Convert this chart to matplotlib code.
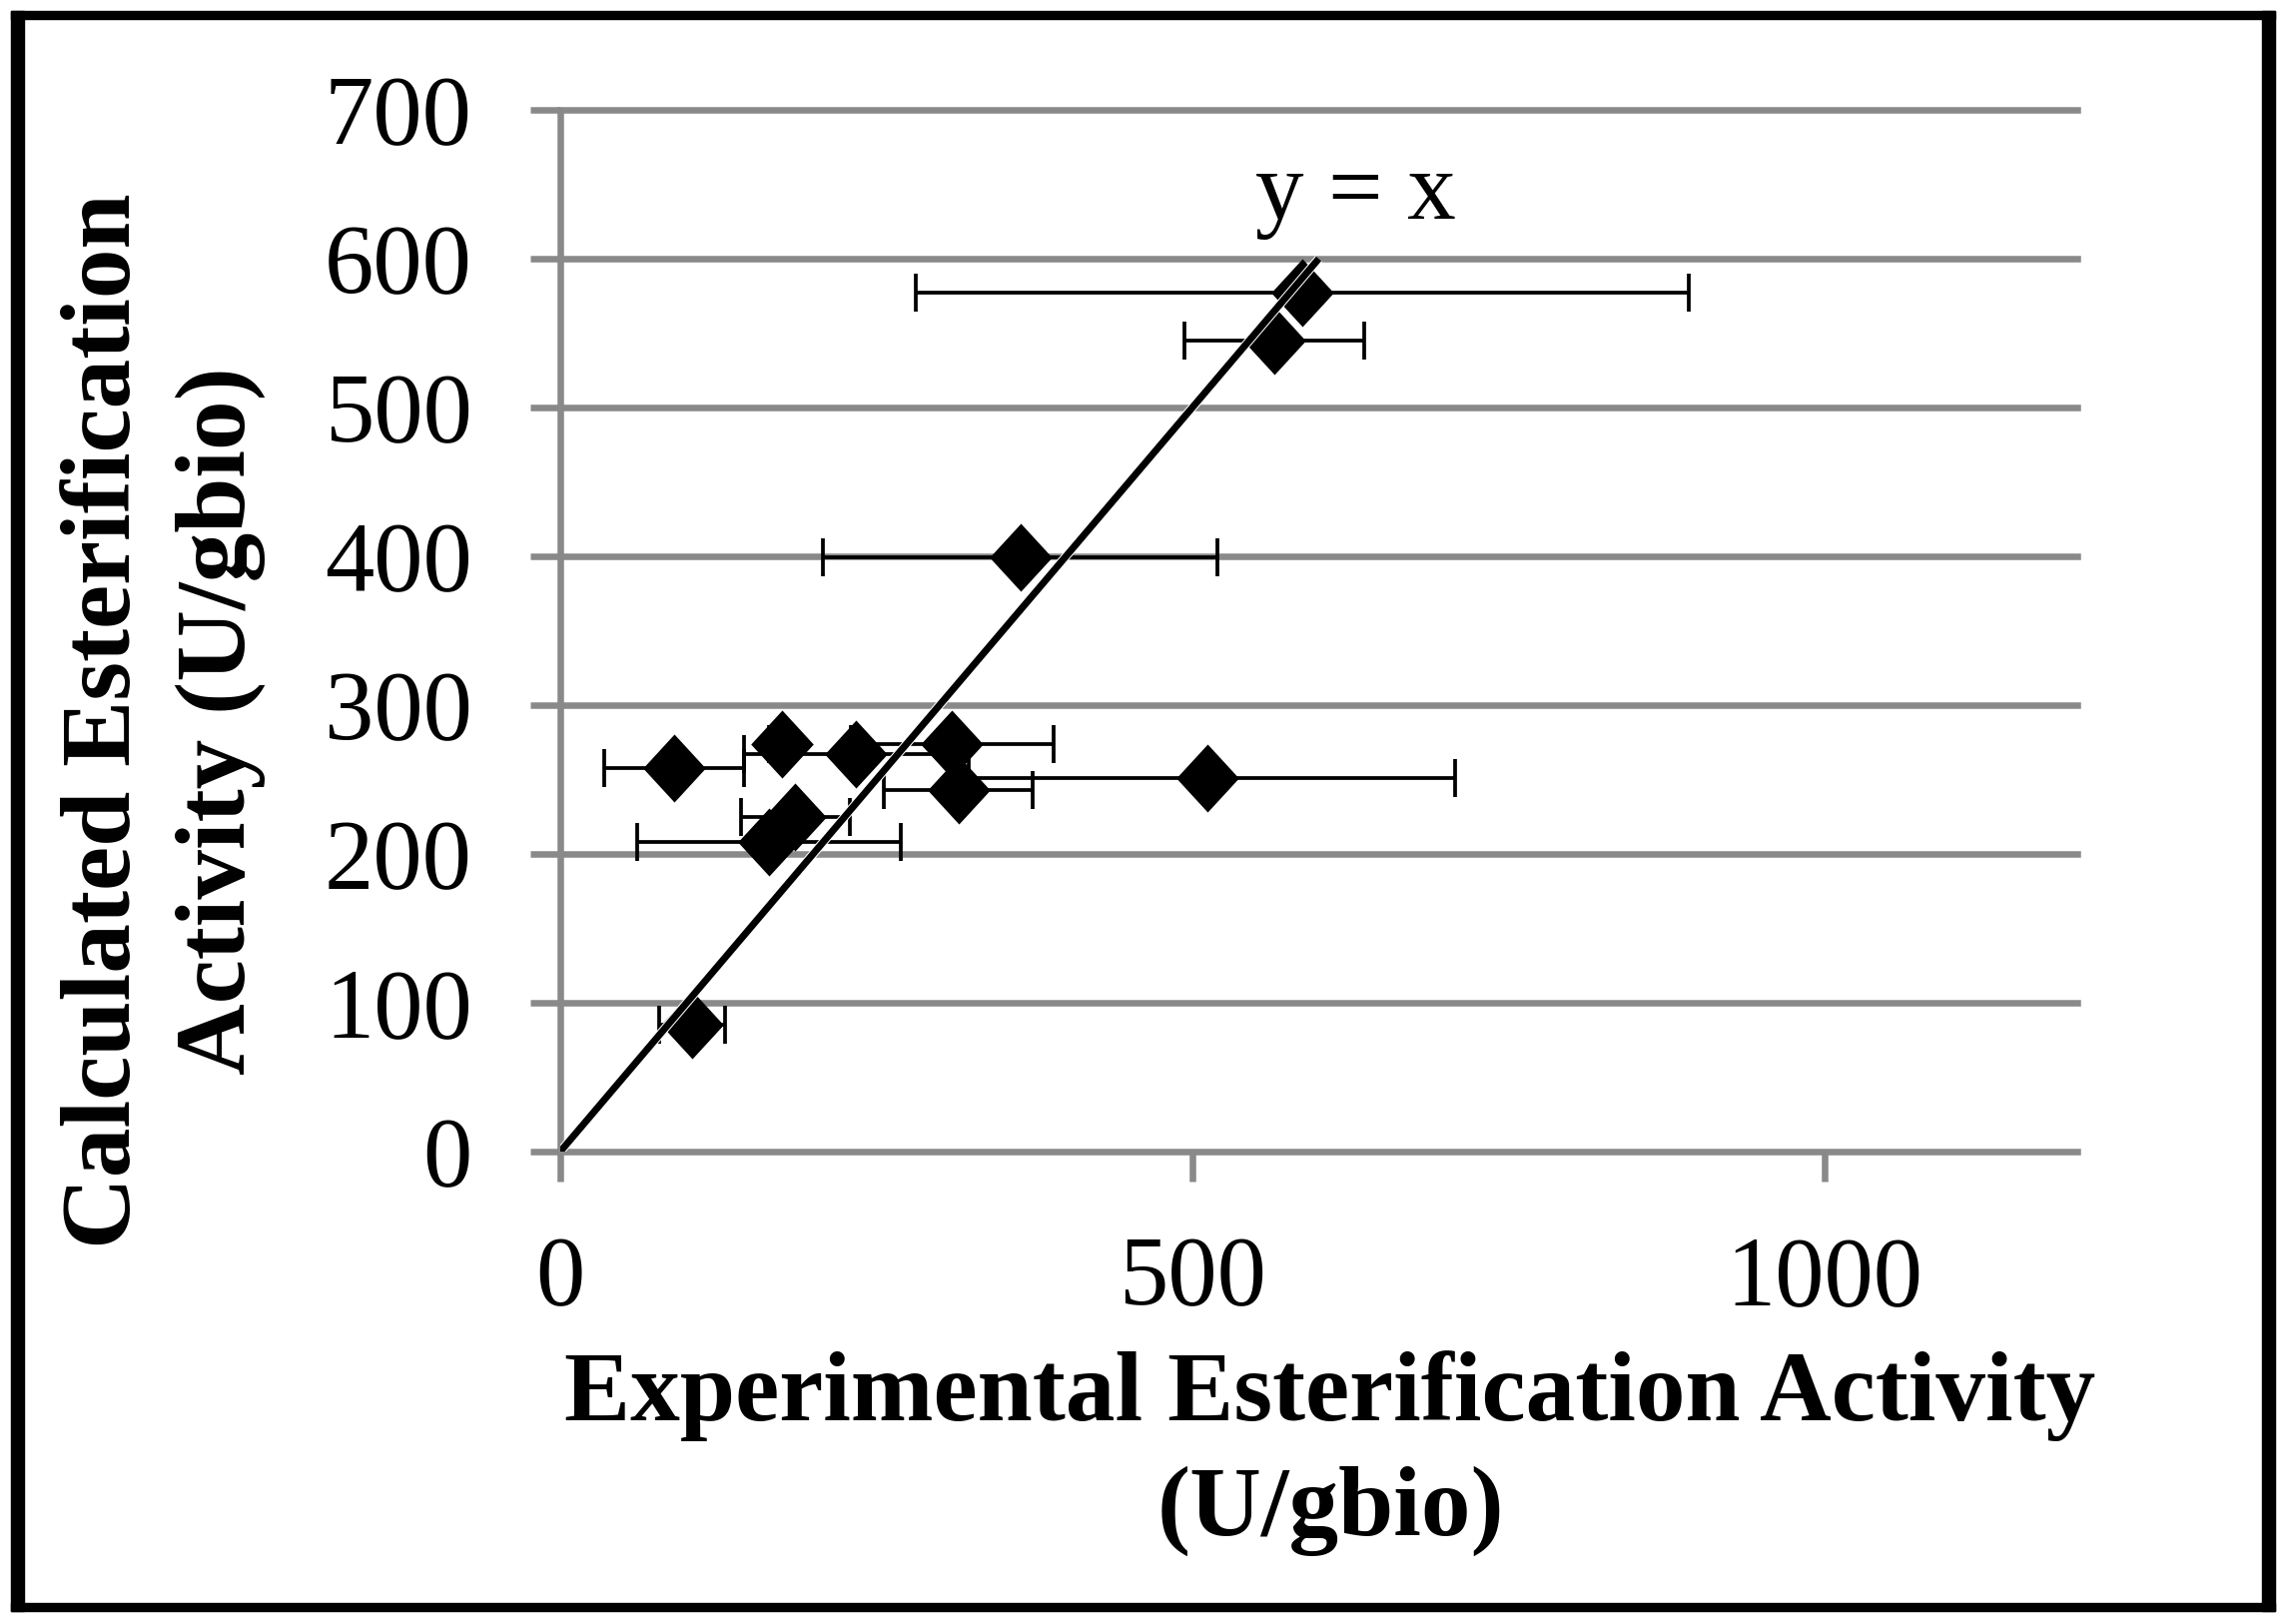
import matplotlib
matplotlib.use("Agg")
import matplotlib.pyplot as plt
import matplotlib.patheffects as pe
from matplotlib.patches import Rectangle

# =========================
# Data
# =========================
exp_activity = [587, 565, 364, 90, 175, 234, 310, 315, 512, 186, 165, 104]
calc_activity = [577, 545, 399, 258, 274, 267, 274, 243, 251, 225, 208, 85]
exp_error = [306, 71, 156, 55, 10, 89, 80, 59, 196, 43, 104, 26]

line_x = [0, 600]
line_y = [0, 600]

x_ticks = [0, 500, 1000]
y_ticks = [0, 100, 200, 300, 400, 500, 600, 700]

plt.rcParams['font.family'] = ['Liberation Serif', 'DejaVu Serif']

W, H = 2285, 1626
fig = plt.figure(figsize=(W / 100, H / 100), dpi=100)
fig.patch.set_facecolor('white')

# axes placed in pixel terms
left, right, top, bottom = 561, 2080, 110, 1153
ax = fig.add_axes([left / W, 1 - bottom / H, (right - left) / W, (bottom - top) / H])

grey = '#898989'
glw = 4.7

ax.set_xlim(0, 1200)
ax.set_ylim(0, 700)
ax.set_xticks(x_ticks)
ax.set_yticks(y_ticks)

for side in ['top', 'right', 'bottom']:
    ax.spines[side].set_visible(False)
ax.spines['left'].set_color(grey)
ax.spines['left'].set_linewidth(glw)
ax.spines['left'].set_capstyle('butt')

ax.yaxis.grid(True, color=grey, linewidth=glw)
for gl in ax.get_ygridlines():
    gl.set_clip_on(False)
ax.set_axisbelow(True)

ax.tick_params(axis='x', direction='out', length=21.6, width=glw, color=grey,
               labelsize=71, pad=39)
ax.tick_params(axis='y', direction='out', length=21.6, width=glw, color=grey,
               labelsize=71, pad=42)

# y = x line
ax.plot(line_x, line_y, color='black', linewidth=5, zorder=5,
        solid_capstyle='butt',
        path_effects=[pe.Stroke(linewidth=6.5, foreground='white'), pe.Normal()])

# diamond markers with horizontal error bars
diamond = [(0, 1), (0.92, 0), (0, -1), (-0.92, 0)]
ax.errorbar(exp_activity, calc_activity, xerr=exp_error, fmt='none',
            ecolor='black', elinewidth=2.7, capsize=13.5, capthick=2.7, zorder=3)
ax.plot(exp_activity, calc_activity, linestyle='none', marker=diamond,
        markersize=49, markerfacecolor='black', markeredgewidth=0, zorder=4)

ax.text(629, 627, 'y = x', fontsize=70, ha='center', va='baseline')

# axis titles
fig.text(1332 / W, 1 - 1422 / H, 'Experimental Esterification Activity',
         fontsize=71.5, fontweight='bold', ha='center', va='baseline')
fig.text(1332 / W, 1 - 1537 / H, '(U/gbio)',
         fontsize=71.5, fontweight='bold', ha='center', va='baseline')
fig.text(130 / W, 1 - 722 / H, 'Calculated Esterification',
         fontsize=71.5, fontweight='bold', ha='center', va='baseline',
         rotation=90, rotation_mode='anchor')
fig.text(245 / W, 1 - 722 / H, 'Activity (U/gbio)',
         fontsize=71.5, fontweight='bold', ha='center', va='baseline',
         rotation=90, rotation_mode='anchor')

# black frame around the figure
fig.patches.append(Rectangle((11 / W, 1 - 1613 / H), 13 / W, (1613 - 11) / H,
                             transform=fig.transFigure, color='black'))
fig.patches.append(Rectangle((2265 / W, 1 - 1613 / H), 13 / W, (1613 - 11) / H,
                             transform=fig.transFigure, color='black'))
fig.patches.append(Rectangle((11 / W, 1 - 19 / H), (2278 - 11) / W, 8 / H,
                             transform=fig.transFigure, color='black'))
fig.patches.append(Rectangle((11 / W, 1 - 1613 / H), (2278 - 11) / W, 8 / H,
                             transform=fig.transFigure, color='black'))

fig.savefig('out.png', dpi=100)
